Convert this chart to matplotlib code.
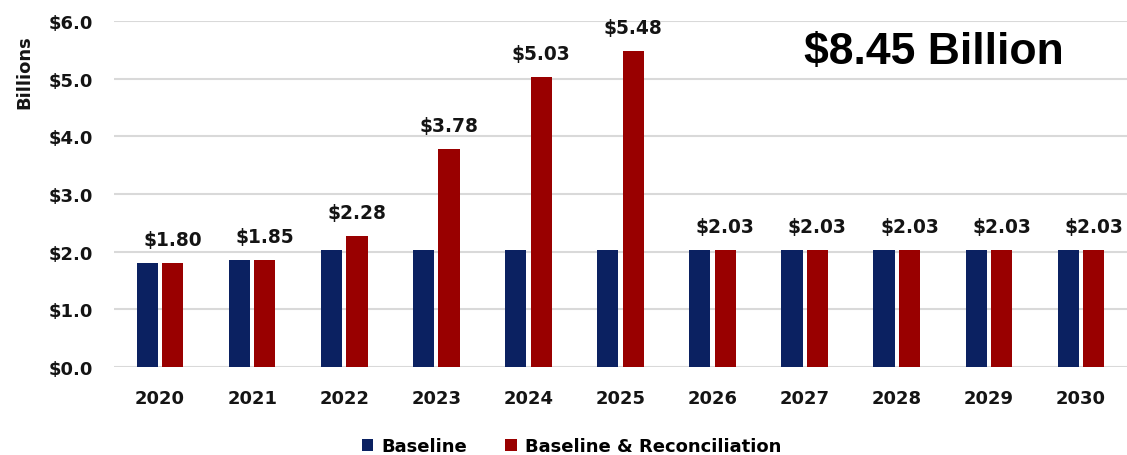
"""Bar chart of baseline vs. baseline & reconciliation funding, 2020-2030."""
from __future__ import annotations

import matplotlib

matplotlib.use("Agg")
import matplotlib.pyplot as plt
import numpy as np

YEARS = ["2020", "2021", "2022", "2023", "2024", "2025",
         "2026", "2027", "2028", "2029", "2030"]
BASELINE = [1.80, 1.85, 2.03, 2.03, 2.03, 2.03, 2.03, 2.03, 2.03, 2.03, 2.03]
RECONCILIATION = [1.80, 1.85, 2.28, 3.78, 5.03, 5.48, 2.03, 2.03, 2.03, 2.03, 2.03]
Y_TICKS = [0, 1, 2, 3, 4, 5, 6]
TOTAL_LABEL = "$8.45 Billion"

NAVY = "#0B2161"
DARK_RED = "#990000"
TEXT = "#141414"

plt.rcParams["font.family"] = ["DejaVu Sans"]
plt.rcParams["font.weight"] = "bold"

fig = plt.figure(figsize=(11.27, 4.56), dpi=100)
ax = fig.add_axes([0.1012, 0.193, 0.8988, 0.7588])

x = np.arange(len(YEARS))
width = 0.23
offset = 0.138

ax.bar(x - offset, BASELINE, width, color=NAVY, label="Baseline", zorder=3)
ax.bar(x + offset, RECONCILIATION, width, color=DARK_RED,
       label="Baseline & Reconciliation", zorder=3)

# Value labels sit over the reconciliation bars
for xi, val in zip(x, RECONCILIATION):
    ax.annotate(f"${val:.2f}", (xi + offset, val), xytext=(0, 10),
                textcoords="offset points", ha="center", va="bottom",
                fontsize=13.4, fontweight="bold", color=TEXT,
                annotation_clip=False)

ax.set_xlim(-0.5, len(YEARS) - 0.5)
ax.set_ylim(0, 6)
ax.set_yticks(Y_TICKS)
ax.set_yticklabels([f"${v:.1f}" for v in Y_TICKS])
ax.set_xticks(x)
ax.set_xticklabels(YEARS)
ax.tick_params(axis="both", length=0, labelsize=13, colors=TEXT)
ax.tick_params(axis="x", pad=15.5)
ax.tick_params(axis="y", pad=15)

ax.grid(True, axis="y", color="#d9d9d9", linewidth=1.5, zorder=0)
for spine in ax.spines.values():
    spine.set_visible(False)

fig.text(0.022, 0.842, "Billions", rotation=90, ha="center", va="center",
         fontsize=13, fontweight="bold", color=TEXT)
fig.text(0.829, 0.884, TOTAL_LABEL, ha="center", va="center",
         fontsize=32, fontweight="bold", color="black",
         family=["Liberation Sans", "DejaVu Sans"])

fig.legend(loc="center", bbox_to_anchor=(0.507, 0.02), ncol=2, frameon=False,
           handlelength=0.65, handleheight=0.65, handletextpad=0.45,
           columnspacing=2.1, borderaxespad=0,
           prop={"size": 13, "weight": "bold"})

fig.savefig("out.png", dpi=100)
plt.close(fig)
